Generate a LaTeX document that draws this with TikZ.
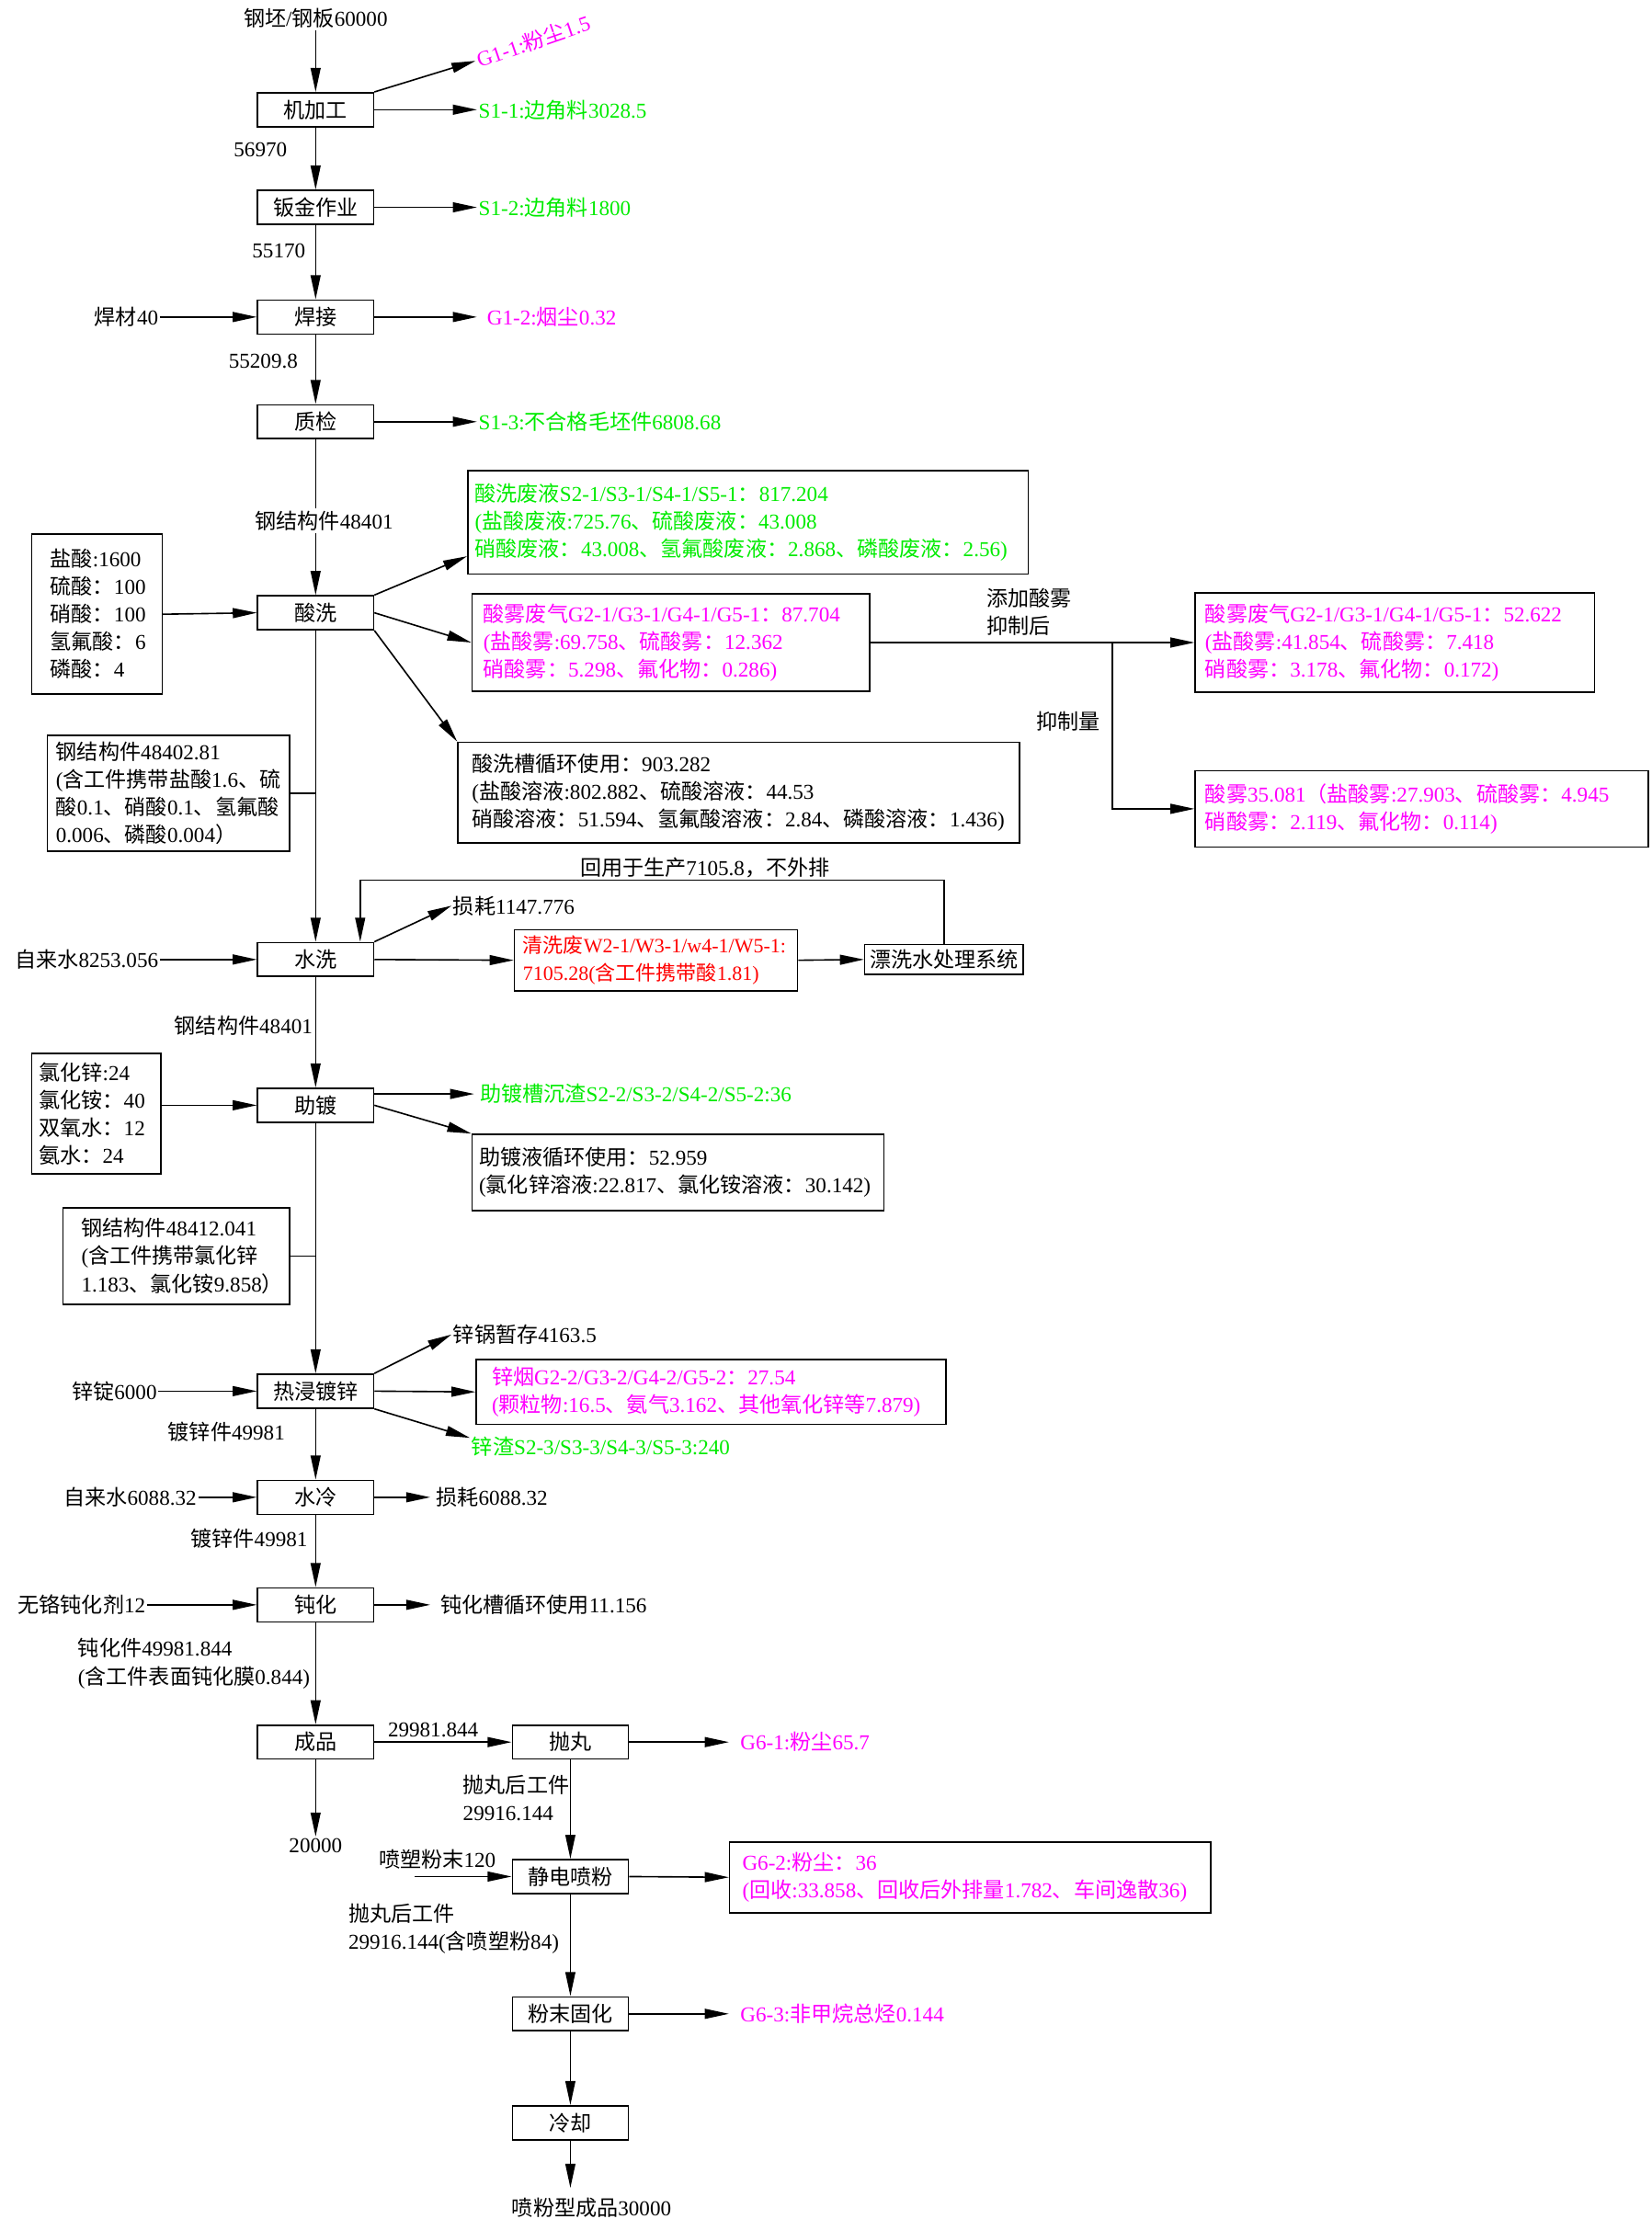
\documentclass[tikz,border=0pt]{standalone}
\usepackage{fontspec}
\setmainfont{Liberation Serif}
\newfontfamily\cjkfont{Noto Sans CJK SC}
\usetikzlibrary{arrows.meta,calc}
\exhyphenpenalty=10000
\hyphenpenalty=10000
\XeTeXinterchartokenstate=1
\newXeTeXintercharclass\cjkcls
\newcount\cjkcnt
\cjkcnt="3000
\loop
  \XeTeXcharclass\cjkcnt=\cjkcls
  \ifnum\cjkcnt<"9FFF \advance\cjkcnt by 1 \repeat
\cjkcnt="FF00
\loop
  \XeTeXcharclass\cjkcnt=\cjkcls
  \ifnum\cjkcnt<"FFEF \advance\cjkcnt by 1 \repeat
\XeTeXinterchartoks 0 \cjkcls = {\cjkfont}
\XeTeXinterchartoks 4095 \cjkcls = {\cjkfont}
\XeTeXinterchartoks \cjkcls 0 = {\rmfamily}
\XeTeXinterchartoks \cjkcls 4095 = {\rmfamily}
\definecolor{lg}{RGB}{0,235,0}
\definecolor{mg}{RGB}{255,0,255}
\definecolor{rd}{RGB}{255,0,0}
\tikzset{
  every node/.style={font=\fontsize{15}{19.5}\selectfont, inner sep=1pt},
  pbox/.style={draw, line width=1.05pt, minimum width=82pt, minimum height=24pt, inner sep=0pt},
  arr/.style={-{Triangle[length=17pt,width=7pt]}, line width=1.05pt},
  ln/.style={line width=1.05pt},
  ibox/.style n args={4}{draw, line width=1.05pt, align=left, anchor=north west, inner ysep=0pt,
     minimum width=#1pt, minimum height=#2pt, inner xsep=#3pt, text width=#4pt},
}
\begin{document}
\begin{tikzpicture}[x=1pt,y=-1pt]
\useasboundingbox (0,0) rectangle (1167,1568);

% ---------- main column boxes ----------
\node[pbox] (m1) at (223,77.5) {机加工};
\node[pbox] (m2) at (223,146.5) {钣金作业};
\node[pbox] (m3) at (223,224) {焊接};
\node[pbox] (m4) at (223,298) {质检};
\node[pbox] (m5) at (223,433) {酸洗};
\node[pbox] (m6) at (223,678) {水洗};
\node[pbox] (m7) at (223,781) {助镀};
\node[pbox] (m8) at (223,983) {热浸镀锌};
\node[pbox] (m9) at (223,1058) {水冷};
\node[pbox] (m10) at (223,1134) {钝化};
\node[pbox] (m11) at (223,1231) {成品};
\node[pbox] (c1) at (403,1231) {抛丸};
\node[pbox] (c2) at (403,1326) {静电喷粉};
\node[pbox] (c3) at (403,1423) {粉末固化};
\node[pbox] (c4) at (403,1500) {冷却};

% ---------- top part ----------
\node (in0) at (223,13) {钢坯/钢板60000};
\draw[arr] (in0.south) -- (m1.north);
\node[rotate=19, anchor=west, text=mg] (g11) at (336,43) {G1-1:粉尘1.5};
\draw[arr] (m1.north east) -- (g11.west);
\node[anchor=west, text=lg] (s11) at (337,77.5) {S1-1:边角料3028.5};
\draw[arr] (m1.east) -- (s11.west);
\draw[arr] (m1.south) -- (m2.north);
\node (q1) at (184,106) {56970};
\node[anchor=west, text=lg] (s12) at (337,146.5) {S1-2:边角料1800};
\draw[arr] (m2.east) -- (s12.west);
\draw[arr] (m2.south) -- (m3.north);
\node (q2) at (197,177) {55170};
\node[anchor=east] (hc) at (113,224) {焊材40};
\draw[arr] (hc.east) -- (m3.west);
\node[anchor=west, text=mg, inner xsep=7pt] (g12) at (337,224) {G1-2:烟尘0.32};
\draw[arr] (m3.east) -- (g12.west);
\draw[arr] (m3.south) -- (m4.north);
\node (q3) at (186,255) {55209.8};
\node[anchor=west, text=lg] (s13) at (337,298) {S1-3:不合格毛坯件6808.68};
\draw[arr] (m4.east) -- (s13.west);
\draw[arr] (m4.south) -- (m5.north);
\node[fill=white, inner sep=2pt] (q4) at (229,368) {钢结构件48401};

% ---------- pickling ----------
\node[ibox={92}{113}{13}{66}] (ac) at (22,377) {盐酸:1600\\硫酸：100\\硝酸：100\\氢氟酸：6\\磷酸：4};
\draw[arr] (ac.east) -- (m5.west);
\node[ibox={396}{73}{5}{386}, text=lg] (bA) at (330,332)
  {酸洗废液S2-1/S3-1/S4-1/S5-1：817.204\\(盐酸废液:725.76、硫酸废液：43.008\\硝酸废液：43.008、氢氟酸废液：2.868、磷酸废液：2.56)};
\node[ibox={281}{69}{8}{265}, text=mg] (bB) at (333,419)
  {酸雾废气G2-1/G3-1/G4-1/G5-1：87.704\\(盐酸雾:69.758、硫酸雾：12.362\\硝酸雾：5.298、氟化物：0.286)};
\node[ibox={282}{70}{7}{268}, text=mg] (bC) at (844,418.5)
  {酸雾废气G2-1/G3-1/G4-1/G5-1：52.622\\(盐酸雾:41.854、硫酸雾：7.418\\硝酸雾：3.178、氟化物：0.172)};
\node[ibox={320}{54}{7}{306}, text=mg] (bD) at (844,544)
  {酸雾35.081（盐酸雾:27.903、硫酸雾：4.945\\硝酸雾：2.119、氟化物：0.114)};
\node[ibox={397}{71}{10}{377}] (bE) at (323,524)
  {酸洗槽循环使用：903.282\\(盐酸溶液:802.882、硫酸溶液：44.53\\硝酸溶液：51.594、氢氟酸溶液：2.84、磷酸溶液：1.436)};
\draw[arr] (m5.north east) -- ([yshift=13pt]bA.south west);
\draw[arr] (m5.east) -- (bB.west);
\draw[arr] (m5.south east) -- (bE.north west);
\coordinate (j1) at (786,453.5);
\draw[arr] (bB.east) -- (bC.west);
\draw[arr] (j1) |- (bD.west);
\node[anchor=west, align=left] (t1) at (696,432.5) {添加酸雾\\抑制后};
\node (t2) at (755,510) {抑制量};
\node[ibox={171}{82}{6}{159}] (k1) at (33,519)
  {钢结构件48402.81\\(含工件携带盐酸1.6、硫\\酸0.1、硝酸0.1、氢氟酸\\0.006、磷酸0.004）};
\draw[ln] (k1.east) -- (k1.east -| m5.south);
\draw[arr] (m5.south) -- (m6.north);

% ---------- water rinse ----------
\node[anchor=east] (zw1) at (113,678) {自来水8253.056};
\draw[arr] (zw1.east) -- (m6.west);
\node[anchor=west] (ls1) at (319,640) {损耗1147.776};
\draw[arr] (m6.north east) -- (ls1.west);
\node[ibox={200}{43}{6}{188}, text=rd, font=\fontsize{14.3}{19.5}\selectfont] (rb) at (363,656.5)
  {清洗废W2-1/W3-1/w4-1/W5-1:\\7105.28(含工件携带酸1.81)};
\draw[arr] (m6.east) -- (rb.west);
\node[draw, line width=1.05pt, minimum width=112pt, minimum height=21pt, inner sep=0pt] (rs) at (667,678) {漂洗水处理系统};
\draw[arr] (rb.east) -- (rs.west);
\coordinate (lp) at (254.5,622);
\draw[arr] (rs.north) |- (lp) -- (lp |- m6.north);
\node (t3) at (498,613) {回用于生产7105.8，不外排};
\draw[arr] (m6.south) -- (m7.north);
\node[anchor=east] (q5) at (222,725) {钢结构件48401};

% ---------- fluxing ----------
\node[ibox={91}{85}{5}{81}] (zb) at (22,744) {氯化锌:24\\氯化铵：40\\双氧水：12\\氨水：24};
\draw[arr] (zb.east |- m7.west) -- (m7.west);
\node[anchor=west, text=lg, inner xsep=4pt] (zs) at (335,773) {助镀槽沉渣S2-2/S3-2/S4-2/S5-2:36};
\draw[arr] ([yshift=8pt]m7.east) -- (zs.west);
\node[ibox={291}{54}{5}{281}] (bF) at (333,801)
  {助镀液循环使用：52.959\\(氯化锌溶液:22.817、氯化铵溶液：30.142)};
\draw[arr] (m7.east) -- (bF.north west);
\node[ibox={160}{68}{13}{134}] (k2) at (44,853)
  {钢结构件48412.041\\(含工件携带氯化锌\\1.183、氯化铵9.858）};
\draw[ln] (k2.east) -- (k2.east -| m7.south);
\draw[arr] (m7.south) -- (m8.north);

% ---------- galvanizing ----------
\node[anchor=east] (zd) at (112,983) {锌锭6000};
\draw[arr] (zd.east) -- (m8.west);
\node[anchor=west] (zg) at (319,943) {锌锅暂存4163.5};
\draw[arr] (m8.north east) -- (zg.west);
\node[ibox={332}{46}{11}{310}, text=mg] (bG) at (336,960)
  {锌烟G2-2/G3-2/G4-2/G5-2：27.54\\(颗粒物:16.5、氨气3.162、其他氧化锌等7.879)};
\draw[arr] (m8.east) -- (bG.west);
\node[anchor=west, text=lg] (zz) at (332,1022) {锌渣S2-3/S3-3/S4-3/S5-3:240};
\draw[arr] (m8.south east) -- ([yshift=6pt]zz.west);
\draw[arr] (m8.south) -- (m9.north);
\node (q6) at (160,1012) {镀锌件49981};

% ---------- water cooling ----------
\node[anchor=east] (zw2) at (140,1058) {自来水6088.32};
\draw[arr] (zw2.east) -- (m9.west);
\node[anchor=west, inner xsep=4pt] (ls2) at (304,1058) {损耗6088.32};
\draw[arr] (m9.east) -- (ls2.west);
\draw[arr] (m9.south) -- (m10.north);
\node (q7) at (176,1087) {镀锌件49981};

% ---------- passivation ----------
\node[anchor=east] (wg) at (104,1134) {无铬钝化剂12};
\draw[arr] (wg.east) -- (m10.west);
\node[anchor=west, inner xsep=7pt] (dh) at (304,1134) {钝化槽循环使用11.156};
\draw[arr] (m10.east) -- (dh.west);
\draw[arr] (m10.south) -- (m11.north);
\node[anchor=west, align=left] (q8) at (54,1175.5) {钝化件49981.844\\(含工件表面钝化膜0.844)};

% ---------- product / shot blasting ----------
\draw[arr] (m11.east) -- (c1.west);
\node[anchor=south] (q9) at (306,1229) {29981.844};
\node[anchor=west, text=mg, inner xsep=8pt] (g61) at (515,1231) {G6-1:粉尘65.7};
\draw[arr] (c1.east) -- (g61.west);
\node (out1) at (223,1304) {20000};
\draw[arr] (m11.south) -- (out1.north);
\draw[arr] (c1.south) -- (c2.north);
\node[anchor=west, align=left] (q10) at (326,1270.5) {抛丸后工件\\29916.144};
\node (pm) at (309,1314) {喷塑粉末120};
\coordinate (pa) at (293,1326);
\draw[arr] (pa) -- (c2.west);
\node[ibox={340}{50}{9}{322}, text=mg] (bH) at (515,1301)
  {G6-2:粉尘：36\\(回收:33.858、回收后外排量1.782、车间逸散36)};
\draw[arr] (c2.east) -- (bH.west);
\draw[arr] (c2.south) -- (c3.north);
\node[anchor=west, align=left] (q11) at (245,1363) {抛丸后工件\\29916.144(含喷塑粉84)};
\node[anchor=west, text=mg, inner xsep=8pt] (g63) at (515,1423) {G6-3:非甲烷总烃0.144};
\draw[arr] (c3.east) -- (g63.west);
\draw[arr] (c3.south) -- (c4.north);
\coordinate (e2) at (403,1546);
\draw[arr] (c4.south) -- (e2);
\node (out2) at (418,1560) {喷粉型成品30000};
\end{tikzpicture}
\end{document}
